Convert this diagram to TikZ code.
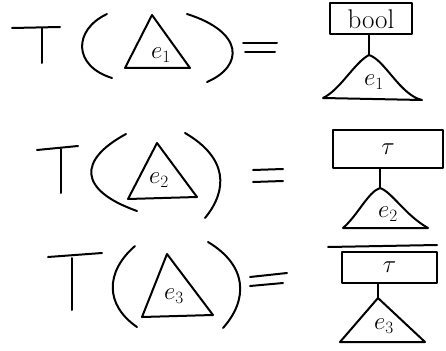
\documentclass[tikz,border=0pt]{standalone}
\usepackage{amsmath,amssymb}
\usepackage{tikz}
\usetikzlibrary{positioning,calc}

\tikzset{
    pen/.style={line width=2pt,line cap=round,line join=round},
    typebox/.style={draw,pen,inner sep=0pt,font=\fontsize{27}{30}\selectfont},
    lbl/.style={font=\fontsize{26}{30}\selectfont}
}

\begin{document}
\begin{tikzpicture}[x=1pt,y=-1pt]
    \useasboundingbox (0,0) rectangle (446,350);

    % row 1: T( e1 ) = bool over e1
    \draw[pen] (12,28) -- (60,27);
    \draw[pen] (42,28) -- (42,63);
    \draw[pen] (107,14) .. controls (73,30) and (73,66) .. (112,78);
    \coordinate (p1) at (152,15);
    \draw[pen] (p1) -- (125,68) -- (190,68) -- cycle;
    \node[lbl] (e1l) at (161,55) {$e_1$};
    \draw[pen] (187,14) .. controls (244,32) and (244,66) .. (207,82);
    \draw[pen] (243,43) -- (277,43);
    \draw[pen] (245,52) -- (275,52);
    \node[typebox,minimum width=82pt,minimum height=31pt] (bool) at (371,19) {bool};
    \coordinate (a1) at (369,55);
    \draw[pen] (a1 |- bool.south) -- (a1);
    \draw[pen] (a1) .. controls (385,60) and (400,95) .. (422,100) -- (323,98) .. controls (340,90) and (355,62) .. (a1);
    \node[lbl] (e1r) at (374,82) {$e_1$};

    % row 2: T( e2 ) = tau over e2
    \draw[pen] (37,150) -- (78,146);
    \draw[pen] (61,149) -- (61,193);
    \draw[pen] (126,134) .. controls (78,160) and (78,190) .. (137,211);
    \coordinate (p2) at (157,143);
    \draw[pen] (p2) -- (128,199) -- (197,197) -- cycle;
    \node[lbl] (e2l) at (159,180) {$e_2$};
    \draw[pen] (185,133) .. controls (228,158) and (228,190) .. (205,218);
    \draw[pen] (253,170) -- (283,169);
    \draw[pen] (253,182) -- (283,181);
    \node[typebox,minimum width=110pt,minimum height=38pt,font=\fontsize{34}{36}\selectfont] (tau2) at (388,149) {$\tau$};
    \coordinate (a2) at (380,188);
    \draw[pen] (a2 |- tau2.south) -- (a2);
    \draw[pen] (a2) .. controls (392,192) and (405,215) .. (428,228) -- (343,228) .. controls (358,215) and (368,192) .. (a2);
    \node[lbl] (e2r) at (388,214) {$e_2$};

    % row 3: T( e3 ) = tau over e3
    \draw[pen] (48,257) -- (102,253);
    \draw[pen] (72,258) -- (72,310);
    \draw[pen] (135,246) .. controls (105,272) and (105,305) .. (137,327);
    \coordinate (p3) at (167,254);
    \draw[pen] (p3) -- (142,317) -- (213,315) -- cycle;
    \node[lbl] (e3l) at (174,296) {$e_3$};
    \draw[pen] (208,242) .. controls (248,266) and (248,300) .. (223,328);
    \draw[pen] (250,277) -- (287,273);
    \draw[pen] (250,286) -- (283,283);
    \draw[pen] (328,247) -- (437,245);
    \node[typebox,minimum width=95pt,minimum height=31pt,font=\fontsize{34}{36}\selectfont] (tau3) at (389.5,267.5) {$\tau$};
    \coordinate (a3) at (378,298);
    \draw[pen] (a3 |- tau3.south) -- (a3);
    \draw[pen] (a3) -- (425,342) -- (340,342) -- cycle;
    \node[lbl] (e3r) at (384,326) {$e_3$};
\end{tikzpicture}
\end{document}
